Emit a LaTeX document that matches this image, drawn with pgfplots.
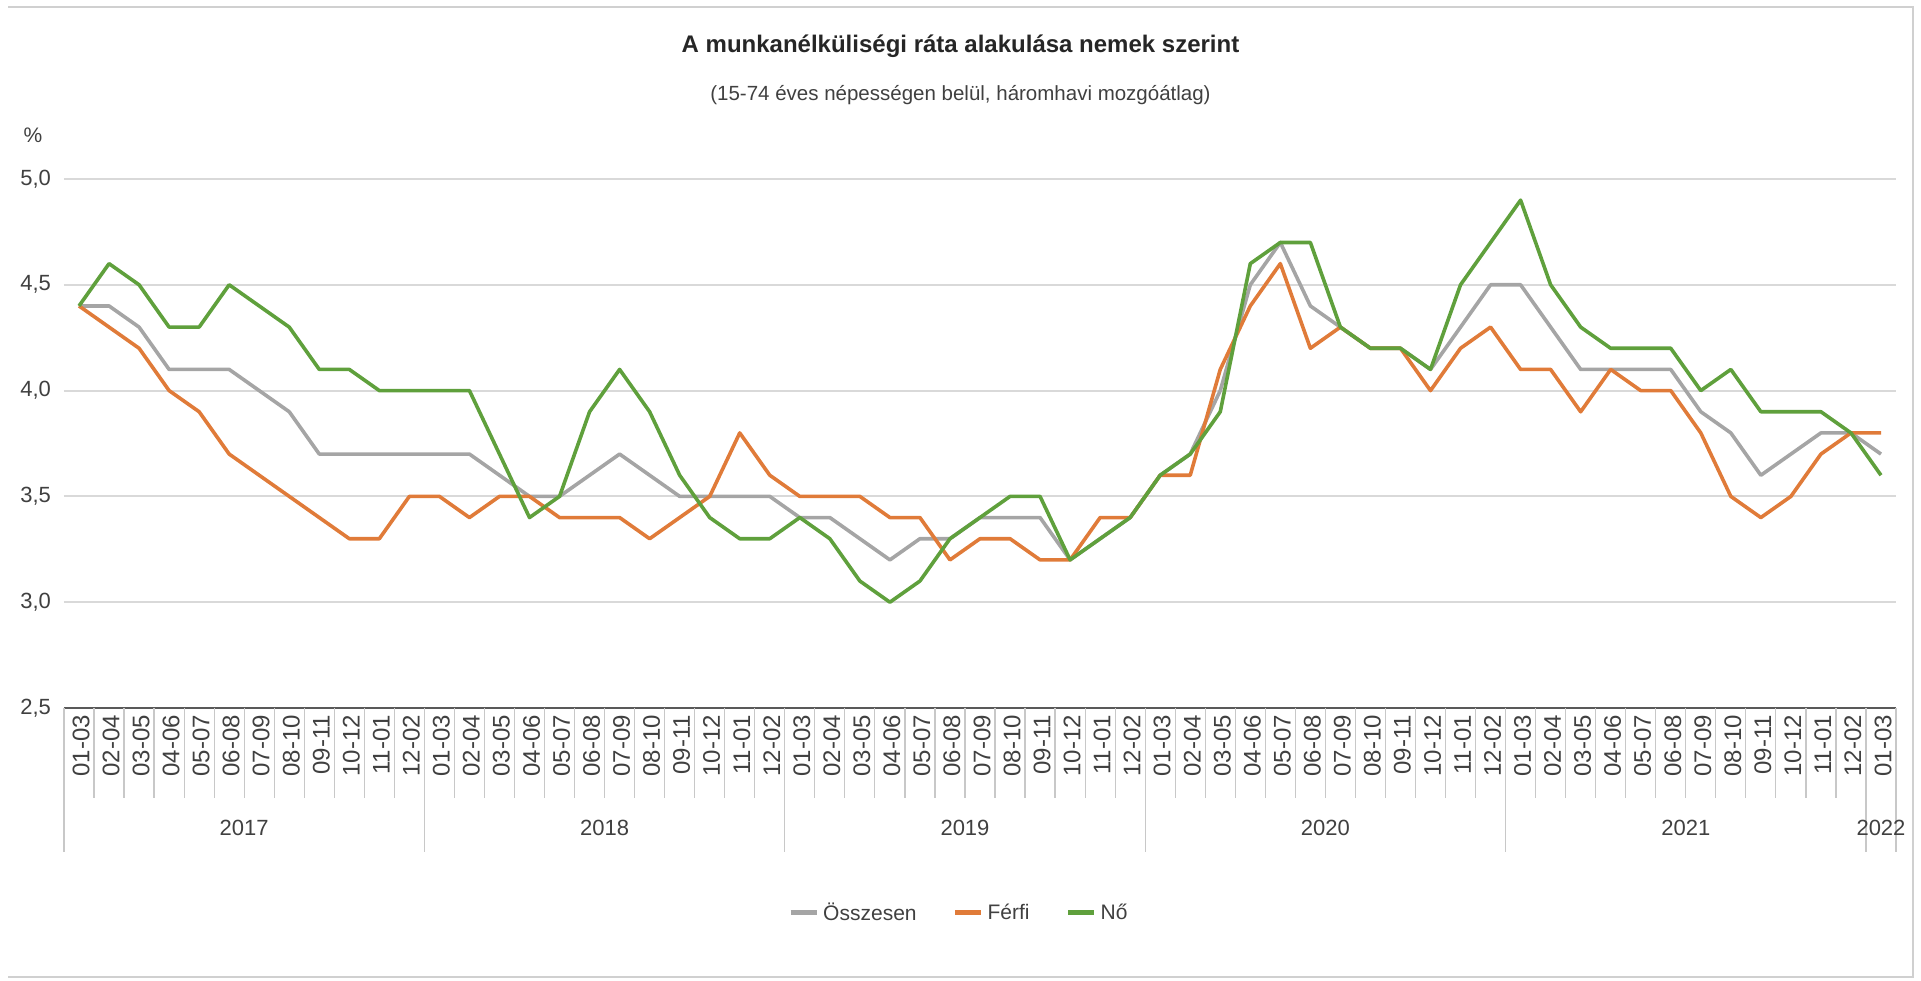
\documentclass[border=0pt]{standalone}
\usepackage{fontspec}
\setmainfont{Liberation Sans}
\usepackage{pgfplots}
\pgfplotsset{compat=1.18}
\definecolor{cgray}{HTML}{A5A5A5}
\definecolor{corange}{HTML}{E07B39}
\definecolor{cgreen}{HTML}{5FA03C}
\definecolor{gridc}{HTML}{D9D9D9}
\definecolor{sepc}{HTML}{C8C8C8}
\definecolor{txt}{HTML}{404040}
\definecolor{framec}{HTML}{D0D0D0}
\definecolor{axc}{HTML}{595959}

\begin{document}
\begin{tikzpicture}
\useasboundingbox (0,0) rectangle (960.5pt,490pt);
\draw[framec, line width=1.2pt] (4pt,486.5pt) -- (956.5pt,486.5pt) -- (956.5pt,1.5pt) -- (4pt,1.5pt);
\node[anchor=base, font=\bfseries\fontsize{12}{14}\selectfont, text=black!85] at (480.25pt,463.5pt) {A munkanélküliségi ráta alakulása nemek szerint};
\node[anchor=base, font=\fontsize{10.25}{12}\selectfont, text=txt] at (480.25pt,439.5pt) {(15-74 éves népességen belül, háromhavi mozgóátlag)};
\node[font=\fontsize{10.5}{12}\selectfont, text=txt] at (16.5pt,422.5pt) {\%};
\begin{axis}[
  at={(32pt,136pt)}, anchor=south west,
  scale only axis, width=916pt, height=264.5pt,
  xmin=-0.5, xmax=60.5, ymin=2.5, ymax=5.0,
  clip=false,
  axis x line*=bottom, axis y line*=left,
  x axis line style={draw=axc, line width=1pt, -},
  y axis line style={draw=none},
  major tick length=0pt,
  ytick={2.5,3.0,3.5,4.0,4.5,5.0},
  ymajorgrids, grid style={draw=gridc, line width=1pt},
  /pgf/number format/.cd, use comma, fixed, fixed zerofill, precision=1, assume math mode=true,
  /pgfplots/.cd,
  yticklabel style={font=\fontsize{11}{12}\selectfont, text=txt, xshift=-3pt},
  xtick={0,...,60},
  xticklabels={01-03,02-04,03-05,04-06,05-07,06-08,07-09,08-10,09-11,10-12,11-01,12-02,
               01-03,02-04,03-05,04-06,05-07,06-08,07-09,08-10,09-11,10-12,11-01,12-02,
               01-03,02-04,03-05,04-06,05-07,06-08,07-09,08-10,09-11,10-12,11-01,12-02,
               01-03,02-04,03-05,04-06,05-07,06-08,07-09,08-10,09-11,10-12,11-01,12-02,
               01-03,02-04,03-05,04-06,05-07,06-08,07-09,08-10,09-11,10-12,11-01,12-02,
               01-03},
  xticklabel style={rotate=90, anchor=east, font=\fontsize{12}{12}\selectfont, text=txt, yshift=-1pt},
  legend columns=3,
  legend style={at={(0.489,-0.3875)}, anchor=center, draw=none, fill=none,
    font=\fontsize{10.5}{12}\selectfont, text=txt,
    /tikz/every even column/.append style={column sep=16pt}},
  legend image code/.code={\draw[#1, line width=2.5pt] (0pt,0pt) -- (13pt,0pt);},
  every axis plot/.append style={line width=1.8pt, line join=round},
]
\addplot[cgray] coordinates {
(0,4.4)(1,4.4)(2,4.3)(3,4.1)(4,4.1)(5,4.1)(6,4.0)(7,3.9)(8,3.7)(9,3.7)(10,3.7)(11,3.7)
(12,3.7)(13,3.7)(14,3.6)(15,3.5)(16,3.5)(17,3.6)(18,3.7)(19,3.6)(20,3.5)(21,3.5)(22,3.5)(23,3.5)
(24,3.4)(25,3.4)(26,3.3)(27,3.2)(28,3.3)(29,3.3)(30,3.4)(31,3.4)(32,3.4)(33,3.2)(34,3.3)(35,3.4)
(36,3.6)(37,3.7)(38,4.0)(39,4.5)(40,4.7)(41,4.4)(42,4.3)(43,4.2)(44,4.2)(45,4.1)(46,4.3)(47,4.5)
(48,4.5)(49,4.3)(50,4.1)(51,4.1)(52,4.1)(53,4.1)(54,3.9)(55,3.8)(56,3.6)(57,3.7)(58,3.8)(59,3.8)
(60,3.7)};
\addlegendentry{Összesen}
\addplot[corange] coordinates {
(0,4.4)(1,4.3)(2,4.2)(3,4.0)(4,3.9)(5,3.7)(6,3.6)(7,3.5)(8,3.4)(9,3.3)(10,3.3)(11,3.5)
(12,3.5)(13,3.4)(14,3.5)(15,3.5)(16,3.4)(17,3.4)(18,3.4)(19,3.3)(20,3.4)(21,3.5)(22,3.8)(23,3.6)
(24,3.5)(25,3.5)(26,3.5)(27,3.4)(28,3.4)(29,3.2)(30,3.3)(31,3.3)(32,3.2)(33,3.2)(34,3.4)(35,3.4)
(36,3.6)(37,3.6)(38,4.1)(39,4.4)(40,4.6)(41,4.2)(42,4.3)(43,4.2)(44,4.2)(45,4.0)(46,4.2)(47,4.3)
(48,4.1)(49,4.1)(50,3.9)(51,4.1)(52,4.0)(53,4.0)(54,3.8)(55,3.5)(56,3.4)(57,3.5)(58,3.7)(59,3.8)
(60,3.8)};
\addlegendentry{Férfi}
\addplot[cgreen] coordinates {
(0,4.4)(1,4.6)(2,4.5)(3,4.3)(4,4.3)(5,4.5)(6,4.4)(7,4.3)(8,4.1)(9,4.1)(10,4.0)(11,4.0)
(12,4.0)(13,4.0)(14,3.7)(15,3.4)(16,3.5)(17,3.9)(18,4.1)(19,3.9)(20,3.6)(21,3.4)(22,3.3)(23,3.3)
(24,3.4)(25,3.3)(26,3.1)(27,3.0)(28,3.1)(29,3.3)(30,3.4)(31,3.5)(32,3.5)(33,3.2)(34,3.3)(35,3.4)
(36,3.6)(37,3.7)(38,3.9)(39,4.6)(40,4.7)(41,4.7)(42,4.3)(43,4.2)(44,4.2)(45,4.1)(46,4.5)(47,4.7)
(48,4.9)(49,4.5)(50,4.3)(51,4.2)(52,4.2)(53,4.2)(54,4.0)(55,4.1)(56,3.9)(57,3.9)(58,3.9)(59,3.8)
(60,3.6)};
\addlegendentry{Nő}
\pgfplotsinvokeforeach{-0.5,0.5,1.5,2.5,3.5,4.5,5.5,6.5,7.5,8.5,9.5,10.5,11.5,12.5,13.5,14.5,15.5,16.5,17.5,18.5,19.5,20.5,21.5,22.5,23.5,24.5,25.5,26.5,27.5,28.5,29.5,30.5,31.5,32.5,33.5,34.5,35.5,36.5,37.5,38.5,39.5,40.5,41.5,42.5,43.5,44.5,45.5,46.5,47.5,48.5,49.5,50.5,51.5,52.5,53.5,54.5,55.5,56.5,57.5,58.5,59.5,60.5}{
  \draw[sepc, line width=0.6pt] (axis cs:#1,2.5) -- ([yshift=-45pt]axis cs:#1,2.5);
}
\pgfplotsinvokeforeach{-0.5,11.5,23.5,35.5,47.5,59.5,60.5}{
  \draw[sepc, line width=0.6pt] (axis cs:#1,2.5) -- ([yshift=-72pt]axis cs:#1,2.5);
}
\node[font=\fontsize{11}{12}\selectfont, text=txt] at ([yshift=-60pt]axis cs:5.5,2.5) {2017};
\node[font=\fontsize{11}{12}\selectfont, text=txt] at ([yshift=-60pt]axis cs:17.5,2.5) {2018};
\node[font=\fontsize{11}{12}\selectfont, text=txt] at ([yshift=-60pt]axis cs:29.5,2.5) {2019};
\node[font=\fontsize{11}{12}\selectfont, text=txt] at ([yshift=-60pt]axis cs:41.5,2.5) {2020};
\node[font=\fontsize{11}{12}\selectfont, text=txt] at ([yshift=-60pt]axis cs:53.5,2.5) {2021};
\node[font=\fontsize{11}{12}\selectfont, text=txt] at ([yshift=-60pt]axis cs:60,2.5) {2022};
\end{axis}
\end{tikzpicture}
\end{document}
